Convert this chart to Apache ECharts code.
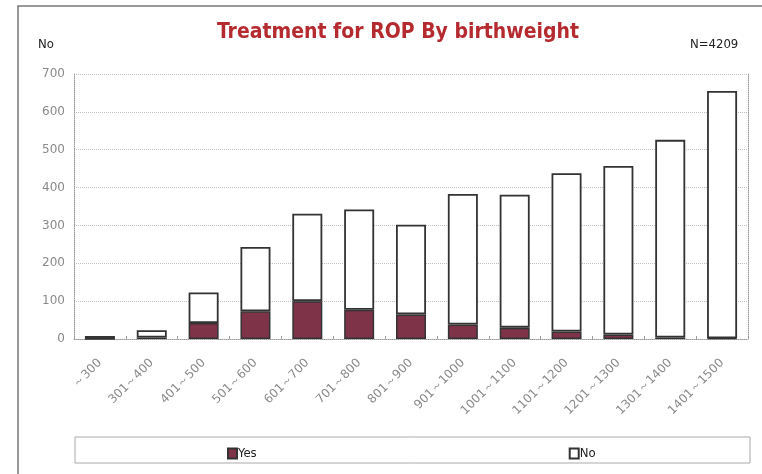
<!DOCTYPE html>
<html><head><meta charset="utf-8">
<script src="https://cdn.jsdelivr.net/npm/echarts@6/dist/echarts.min.js"></script>
<style>html,body{margin:0;padding:0;background:#fff}#c{width:762px;height:474px}</style>
</head><body><div id="c"></div>
<script>
var categories = ['～300','301～400','401～500','501～600','601～700','701～800','801～900','901～1000','1001～1100','1101～1200','1201～1300','1301～1400','1401～1500'];
var yesValues = [0, 4, 42, 73, 100, 77, 65, 38, 30, 20, 12, 4, 2];
var noValues  = [8, 19, 81, 170, 231, 265, 237, 345, 351, 418, 445, 522, 653];
var yTicks = [0, 100, 200, 300, 400, 500, 600, 700];

var chart = echarts.init(document.getElementById('c'), null, {renderer:'canvas'});
var gray = '#8a8a8a';
chart.setOption({
  backgroundColor:'#fff',
  animation:false,
  title:{text:'Treatment for ROP By birthweight', left:393, top:17, textAlign:'center',
    textStyle:{color:'#b52a2f', fontSize:21, fontWeight:'bold', fontFamily:'DejaVu Sans Condensed, Liberation Sans, sans-serif'}},
  graphic:[
    {type:'rect', shape:{x:18, y:6, width:760, height:480}, style:{fill:'none', stroke:'#777', lineWidth:1.5}},
    {type:'text', left:38, top:38, style:{text:'No', fill:'#222', font:'13px "Liberation Sans Narrow", "DejaVu Sans Condensed", sans-serif'}},
    {type:'text', left:690, top:38, style:{text:'N=4209', fill:'#222', font:'13px "Liberation Sans Narrow", "DejaVu Sans Condensed", sans-serif'}},
    {type:'rect', shape:{x:75, y:437, width:675, height:26}, style:{fill:'#fff', stroke:'#aaa', lineWidth:1}}
  ],
  legend:{left:222, top:442, itemWidth:9, itemHeight:10, itemGap:312,
    textStyle:{color:'#222', fontSize:13, fontFamily:'"Liberation Sans Narrow", "DejaVu Sans Condensed", sans-serif', padding:[0,0,0,-4]},
    data:[{name:'Yes', icon:'rect'}, {name:'No', icon:'rect'}]},
  grid:{left:74, right:14, top:74, bottom:135},
  xAxis:{type:'category', data:categories,
    axisLine:{lineStyle:{color:'#999', type:'dotted', width:1}},
    axisTick:{show:true, inside:true, length:3, lineStyle:{color:'#999'}},
    axisLabel:{rotate:45, color:gray, fontSize:12, margin:22, interval:0, fontFamily:'DejaVu Sans, sans-serif'}},
  yAxis:[{type:'value', min:0, max:700, interval:100,
    axisLine:{show:true, lineStyle:{color:'#999', type:'dotted'}},
    axisTick:{show:false},
    axisLabel:{color:gray, fontSize:12, margin:9, fontFamily:'DejaVu Sans, sans-serif',
      formatter:function(v){return yTicks.indexOf(v)>=0 ? String(v) : '';}},
    splitLine:{show:true, lineStyle:{color:'#c0c0c0', type:'dotted'}}},
    {type:'value', min:0, max:700, interval:100, position:'right',
    axisLine:{show:true, lineStyle:{color:'#999', type:'dotted'}},
    axisTick:{show:false}, axisLabel:{show:false}, splitLine:{show:false}}],
  series:[
    {name:'Yes', type:'bar', stack:'t', data:yesValues, barWidth:30,
      itemStyle:{color:'#7e3349', borderColor:'#333', borderWidth:1.5}},
    {name:'No', type:'bar', stack:'t', data:noValues, barWidth:30,
      itemStyle:{color:'#fff', borderColor:'#333', borderWidth:1.8}}
  ]
});
</script></body></html>
